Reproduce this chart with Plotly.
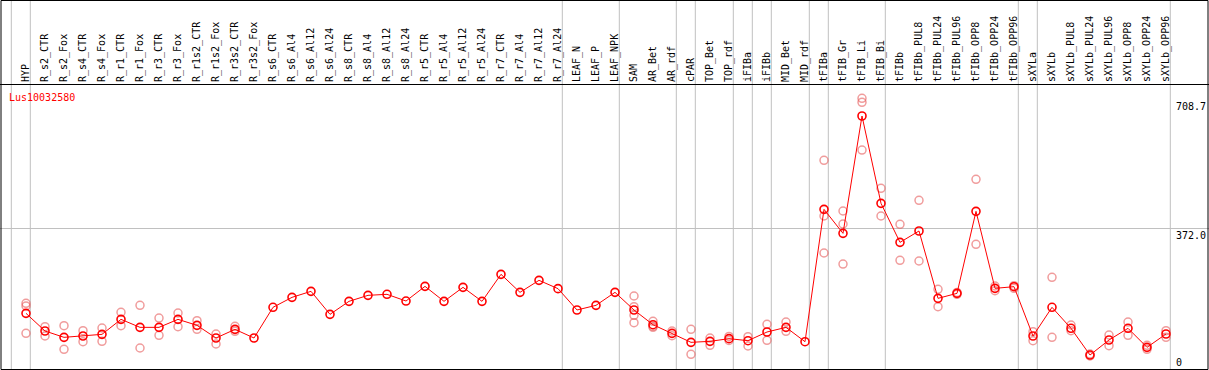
import plotly.graph_objects as go

categories = [
    "HYP",
    "R_s2_CTR", "R_s2_Fox", "R_s4_CTR", "R_s4_Fox", "R_r1_CTR", "R_r1_Fox",
    "R_r3_CTR", "R_r3_Fox", "R_r1s2_CTR", "R_r1s2_Fox", "R_r3s2_CTR", "R_r3s2_Fox",
    "R_s6_CTR", "R_s6_Al4", "R_s6_Al12", "R_s6_Al24",
    "R_s8_CTR", "R_s8_Al4", "R_s8_Al12", "R_s8_Al24",
    "R_r5_CTR", "R_r5_Al4", "R_r5_Al12", "R_r5_Al24",
    "R_r7_CTR", "R_r7_Al4", "R_r7_Al12", "R_r7_Al24",
    "LEAF_N", "LEAF_P", "LEAF_NPK",
    "SAM", "AR_Bet", "AR_rdf",
    "cPAR",
    "TOP_Bet", "TOP_rdf",
    "iFIBa",
    "iFIBb",
    "MID_Bet", "MID_rdf",
    "tFIBa",
    "tFIB_Gr", "tFIB_Li", "tFIB_Bi",
    "tFIBb", "tFIBb_PUL8", "tFIBb_PUL24", "tFIBb_PUL96", "tFIBb_OPP8", "tFIBb_OPP24", "tFIBb_OPP96",
    "sXYLa",
    "sXYLb", "sXYLb_PUL8", "sXYLb_PUL24", "sXYLb_PUL96", "sXYLb_OPP8", "sXYLb_OPP24", "sXYLb_OPP96",
]

# sizes of the sample groups (separated by vertical grey lines)
group_sizes = [1, 28, 3, 3, 1, 2, 1, 1, 2, 1, 3, 7, 1, 7]

mean_values = [
    135.1,
    86.1, 68.5, 72.2, 76.8, 118.4, 96.2, 96.2, 118.4, 101.8, 66.6, 90.6, 66.6,
    151.8, 179.5, 196.2, 132.3,
    168.4, 185.1, 187.9, 169.3,
    210.0, 168.4, 207.3, 168.4,
    243.4, 193.4, 226.7, 203.6,
    144.4, 157.3, 193.4,
    144.4, 103.6, 79.6,
    54.6,
    57.4, 64.8,
    59.2,
    83.3,
    96.2, 56.4,
    423.8,
    357.2, 682.9, 440.5,
    332.2, 363.7, 176.7, 190.6, 418.3, 204.5, 209.1,
    72.2,
    151.8, 93.5, 19.4, 61.1, 93.5, 40.7, 77.7,
]

# individual replicate values per sample (empty where none are drawn)
replicate_values = [
    [162.8, 155.5, 79.6],
    [98.1, 72.2], [100.9, 35.2], [87.0, 56.4], [94.4, 57.3], [137.8, 100.9], [157.3, 38.9],
    [122.1, 74.0], [136.0, 98.1], [114.7, 90.6], [77.7, 50.0], [99.0, 85.1], [],
    [], [], [], [],
    [], [], [], [],
    [], [], [], [],
    [], [], [], [],
    [], [], [],
    [183.2, 153.6, 129.5, 109.2], [112.9, 99.0, 96.2], [86.1, 73.1],
    [90.6, 21.3],
    [66.6, 46.3], [71.0, 60.0],
    [70.3, 44.4],
    [104.6, 60.1],
    [111.0, 85.1], [],
    [559.8, 405.3, 302.6],
    [419.2, 383.1, 272.0], [731.9, 720.8, 588.5], [482.1, 405.3],
    [382.1, 282.2], [448.8, 280.4], [201.7, 153.6], [188.0, 193.0], [507.1, 326.6], [211.0, 198.0], [211.9, 204.5],
    [84.2, 59.2],
    [235.0, 68.5], [102.7, 87.0], [22.2, 16.7], [75.0, 45.3], [111.0, 74.0], [46.3, 35.2], [87.0, 68.5],
]

gene_name = "Lus10032580"
y_tick_values = [0, 708.7]
y_tick_text = ["0", "708.7"]
mid_tick_value = 372.0
mid_tick_text = ["372.0"]

# ---------------------------------------------------------------
W, H = 1209, 370
TOP = 85
PLOT_H = H - TOP
STEP = W / 19.0          # category spacing of 19 px
X0 = -26 / 19.0          # first category at 26 px
x_range = [X0, X0 + STEP]
y_range = [-22.2, 769.0]

FONT = "DejaVu Sans Mono"
GRID = "#c0c0c0"

idx = list(range(len(categories)))
rep_x, rep_y = [], []
for i, reps in enumerate(replicate_values):
    for v in reps:
        rep_x.append(i)
        rep_y.append(v)

fig = go.Figure()
fig.add_trace(go.Scatter(
    x=rep_x, y=rep_y, mode="markers", yaxis="y", showlegend=False,
    marker=dict(symbol="circle-open", size=8, color="rgba(230,90,90,0.6)",
                line=dict(width=1.5, color="rgba(230,90,90,0.6)")),
    hoverinfo="skip",
))
fig.add_trace(go.Scatter(
    x=idx, y=mean_values, mode="lines+markers", yaxis="y2", showlegend=False,
    line=dict(color="#ff0000", width=1),
    marker=dict(symbol="circle-open", size=8, color="#ff0000",
                line=dict(width=1.6, color="#ff0000")),
    text=categories,
))

# group separators
shapes = []
SEP_OFF = 4.3 / 19.0
bounds = [-1]
acc = 0
for g in group_sizes:
    acc += g
    bounds.append(acc - 1)
ytop = 1 + TOP / PLOT_H
for b in bounds:
    shapes.append(dict(type="line", xref="x", yref="paper", x0=b + SEP_OFF, x1=b + SEP_OFF,
                       y0=0, y1=ytop, line=dict(color=GRID, width=1), layer="below"))
# outer frame
shapes.append(dict(type="rect", xref="paper", yref="paper",
                   x0=1 / W, x1=1 - 1 / W, y0=0.5 / PLOT_H, y1=ytop - 0.5 / PLOT_H,
                   line=dict(color="black", width=1), layer="above"))

axis_pos = 1175 / W

fig.update_layout(
    width=W, height=H,
    margin=dict(l=0, r=0, t=TOP, b=0, pad=0),
    paper_bgcolor="white", plot_bgcolor="white",
    font=dict(family=FONT, size=10, color="black"),
    title=dict(text=gene_name, x=9 / W, xanchor="left", xref="paper",
               y=(H - 97) / H, yanchor="middle", yref="container",
               font=dict(family=FONT, size=10, color="#ff0000")),
    xaxis=dict(
        range=x_range, tickmode="array", tickvals=idx, ticktext=categories,
        side="top", tickangle=-90, ticks="", showgrid=False, zeroline=False,
        showline=True, linecolor="black", linewidth=1,
        tickfont=dict(family=FONT, size=10, color="black"), fixedrange=True,
    ),
    yaxis=dict(
        range=y_range, tickmode="array", tickvals=y_tick_values, ticktext=y_tick_text,
        side="right", anchor="free", position=axis_pos, ticks="",
        showgrid=False, zeroline=False, showline=False,
        tickfont=dict(family=FONT, size=10, color="black"), fixedrange=True,
    ),
    yaxis2=dict(
        range=y_range, matches="y", overlaying="y", tickmode="array",
        tickvals=[mid_tick_value], ticktext=mid_tick_text,
        side="right", anchor="free", position=axis_pos, ticks="",
        ticklabelposition="outside bottom",
        showgrid=True, gridcolor=GRID, gridwidth=1, zeroline=False, showline=False,
        tickfont=dict(family=FONT, size=10, color="black"), fixedrange=True,
    ),
    shapes=shapes,
)

fig.write_html("out.html", include_plotlyjs=True, full_html=True,
               config={"displayModeBar": False},
               post_script="document.body.style.margin='0';document.body.style.overflow='hidden';")
